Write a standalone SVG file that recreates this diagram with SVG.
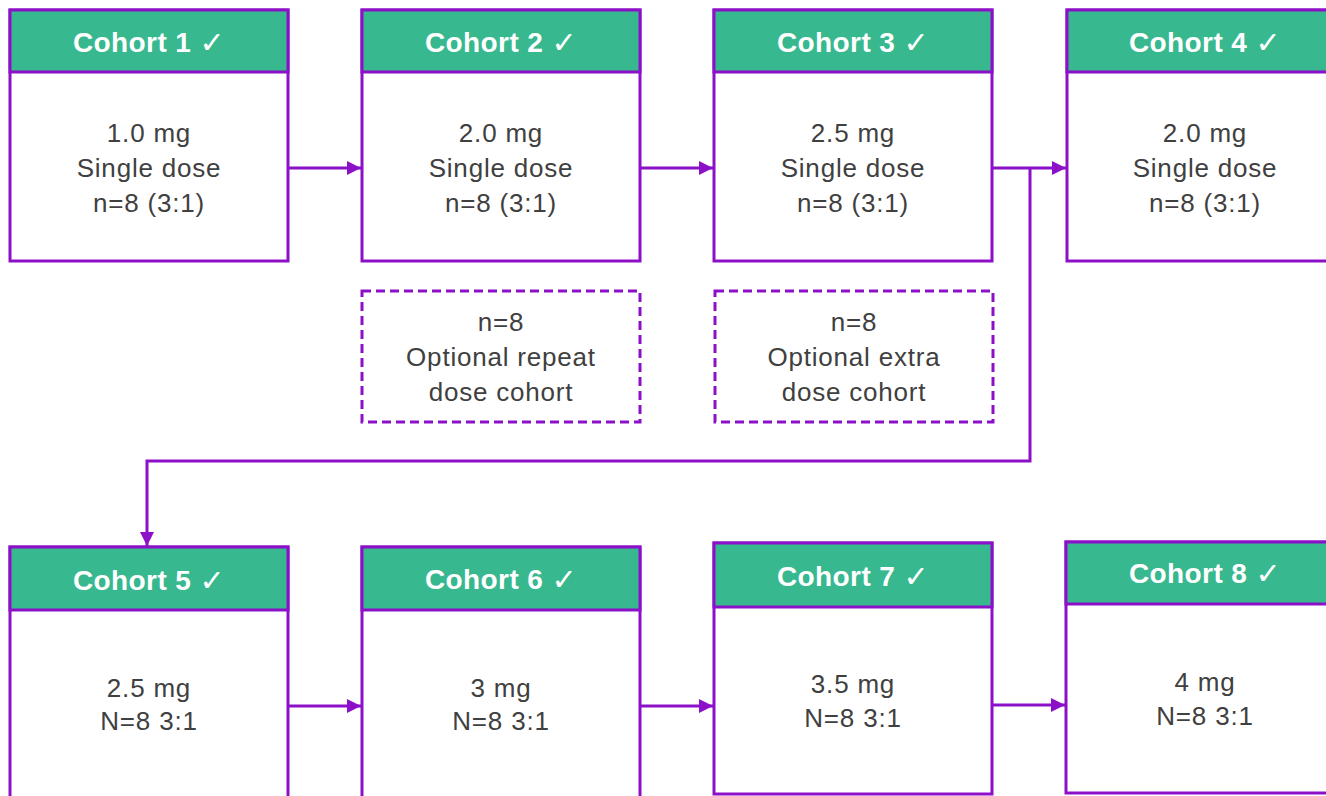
<svg xmlns="http://www.w3.org/2000/svg" width="1326" height="796" viewBox="0 0 1326 796">
<style>
.box{fill:#ffffff;stroke:#8C10C8;stroke-width:3}
.hdr{fill:#37B88F;stroke:#8C10C8;stroke-width:3}
.dash{fill:none;stroke:#8C10C8;stroke-width:3;stroke-dasharray:9 5}
.ht{font-family:"Liberation Sans",Arial,sans-serif;font-weight:bold;font-size:28px;letter-spacing:0.4px;fill:#ffffff;text-anchor:middle;dominant-baseline:central}
.ck{font-family:"DejaVu Sans",sans-serif;font-weight:normal;font-size:30px}
.bt{font-family:"Liberation Sans",Arial,sans-serif;font-size:26px;letter-spacing:0.8px;fill:#404040;text-anchor:middle;dominant-baseline:central}
.con{fill:none;stroke:#8C10C8;stroke-width:3}
</style>
<defs>
<marker id="arr" markerUnits="userSpaceOnUse" markerWidth="14" markerHeight="14" viewBox="0 0 14 14" refX="14" refY="7" orient="auto">
<path d="M0,0 L14,7 L0,14 Z" fill="#8C10C8"/>
</marker>
</defs>
<rect width="1326" height="796" fill="#ffffff"/>
<g id="connectors">
<line class="con" x1="288" y1="168" x2="361" y2="168" marker-end="url(#arr)"/>
<line class="con" x1="640" y1="168" x2="713" y2="168" marker-end="url(#arr)"/>
<line class="con" x1="992" y1="168" x2="1066" y2="168" marker-end="url(#arr)"/>
<path class="con" d="M1030,168 V461 H147 V546" marker-end="url(#arr)"/>
<line class="con" x1="288" y1="706" x2="361" y2="706" marker-end="url(#arr)"/>
<line class="con" x1="640" y1="706" x2="713" y2="706" marker-end="url(#arr)"/>
<line class="con" x1="992" y1="705" x2="1065" y2="705" marker-end="url(#arr)"/>
</g>
<g id="cohort1">
<rect class="box" x="10" y="10" width="278" height="251"/>
<rect class="hdr" x="10" y="10" width="278" height="62"/>
<text class="ht" x="149" y="42">Cohort 1 <tspan class="ck">✓</tspan></text>
<text class="bt" x="149" y="133">1.0 mg</text>
<text class="bt" x="149" y="168">Single dose</text>
<text class="bt" x="149" y="203">n=8 (3:1)</text>
</g>
<g id="cohort2">
<rect class="box" x="362" y="10" width="278" height="251"/>
<rect class="hdr" x="362" y="10" width="278" height="62"/>
<text class="ht" x="501" y="42">Cohort 2 <tspan class="ck">✓</tspan></text>
<text class="bt" x="501" y="133">2.0 mg</text>
<text class="bt" x="501" y="168">Single dose</text>
<text class="bt" x="501" y="203">n=8 (3:1)</text>
</g>
<g id="cohort3">
<rect class="box" x="714" y="10" width="278" height="251"/>
<rect class="hdr" x="714" y="10" width="278" height="62"/>
<text class="ht" x="853" y="42">Cohort 3 <tspan class="ck">✓</tspan></text>
<text class="bt" x="853" y="133">2.5 mg</text>
<text class="bt" x="853" y="168">Single dose</text>
<text class="bt" x="853" y="203">n=8 (3:1)</text>
</g>
<g id="cohort4">
<rect class="box" x="1067" y="10" width="278" height="251"/>
<rect class="hdr" x="1067" y="10" width="278" height="62"/>
<text class="ht" x="1205" y="42">Cohort 4 <tspan class="ck">✓</tspan></text>
<text class="bt" x="1205" y="133">2.0 mg</text>
<text class="bt" x="1205" y="168">Single dose</text>
<text class="bt" x="1205" y="203">n=8 (3:1)</text>
</g>
<g id="optional-repeat">
<rect class="dash" x="362" y="291" width="278" height="131"/>
<text class="bt" x="501" y="322">n=8</text>
<text class="bt" x="501" y="357">Optional repeat</text>
<text class="bt" x="501" y="392">dose cohort</text>
</g>
<g id="optional-extra">
<rect class="dash" x="715" y="291" width="278" height="131"/>
<text class="bt" x="854" y="322">n=8</text>
<text class="bt" x="854" y="357">Optional extra</text>
<text class="bt" x="854" y="392">dose cohort</text>
</g>
<g id="cohort5">
<rect class="box" x="10" y="547" width="278" height="270"/>
<rect class="hdr" x="10" y="547" width="278" height="63"/>
<text class="ht" x="149" y="580">Cohort 5 <tspan class="ck">✓</tspan></text>
<text class="bt" x="149" y="688">2.5 mg</text>
<text class="bt" x="149" y="721">N=8 3:1</text>
</g>
<g id="cohort6">
<rect class="box" x="362" y="547" width="278" height="270"/>
<rect class="hdr" x="362" y="547" width="278" height="63"/>
<text class="ht" x="501" y="579">Cohort 6 <tspan class="ck">✓</tspan></text>
<text class="bt" x="501" y="688">3 mg</text>
<text class="bt" x="501" y="721">N=8 3:1</text>
</g>
<g id="cohort7">
<rect class="box" x="714" y="543" width="278" height="251"/>
<rect class="hdr" x="714" y="543" width="278" height="64"/>
<text class="ht" x="853" y="576">Cohort 7 <tspan class="ck">✓</tspan></text>
<text class="bt" x="853" y="684">3.5 mg</text>
<text class="bt" x="853" y="718">N=8 3:1</text>
</g>
<g id="cohort8">
<rect class="box" x="1066" y="542" width="280" height="251"/>
<rect class="hdr" x="1066" y="542" width="280" height="62"/>
<text class="ht" x="1205" y="573">Cohort 8 <tspan class="ck">✓</tspan></text>
<text class="bt" x="1205" y="682">4 mg</text>
<text class="bt" x="1205" y="716">N=8 3:1</text>
</g>
</svg>
